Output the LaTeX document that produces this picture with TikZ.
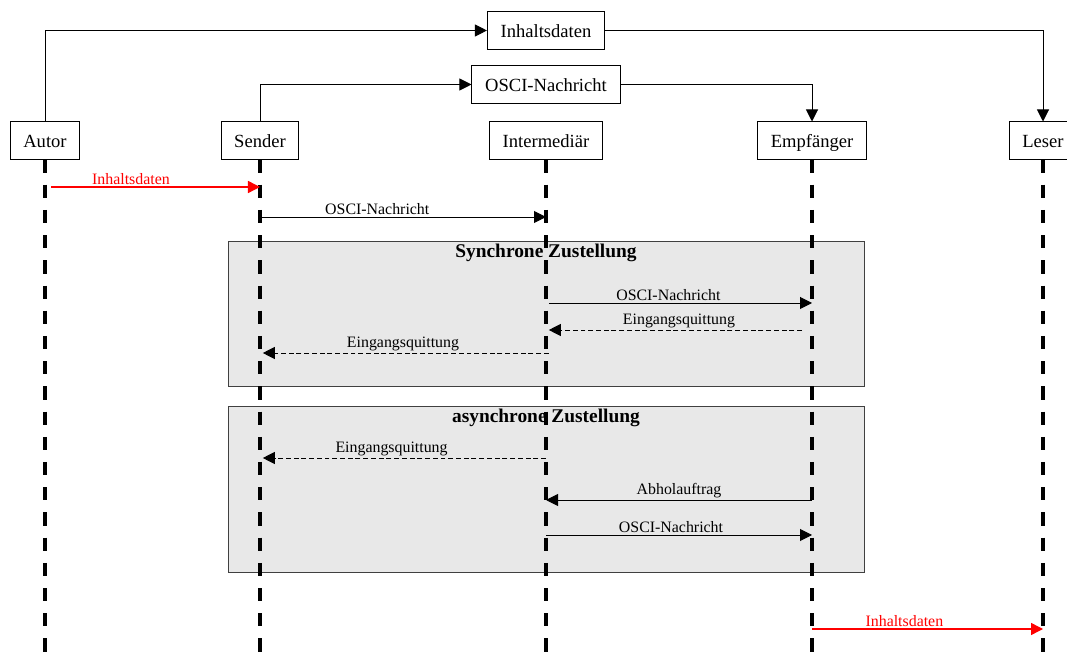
\documentclass[tikz,border=0pt]{standalone}
\usepackage{fontspec}
\setmainfont{Liberation Serif}
\usetikzlibrary{arrows.meta}

\begin{document}
\begin{tikzpicture}[x=0.025cm, y=-0.025cm,
        role/.style={draw, fill=white, line width=0.7pt, inner xsep=0.33cm,
            minimum height=0.925cm, text height=11pt, text depth=1.4pt,
            font=\fontsize{13.2}{15}\selectfont},
        flow/.style={-{Triangle[length=0.3cm, width=0.3cm]}, line width=0.7pt},
        lifeline/.style={line width=2.2pt, dash pattern=on 0.33cm off 0.3cm},
        msg/.style={-{Triangle[length=0.3cm, width=0.3cm]}, line width=0.7pt},
        reply/.style={msg, dash pattern=on 3.5pt off 2pt},
        datamsg/.style={msg, red, line width=1pt},
        lbl/.style={above, inner sep=1pt, font=\fontsize{11.3}{12}\selectfont},
        phase/.style={draw=black!75, fill=black!9, line width=0.7pt},
        phasetitle/.style={below, inner sep=2pt, font=\bfseries\fontsize{13.8}{15}\selectfont}]
        \useasboundingbox (0,0) rectangle (1067,655);

        % Rollen
        \node [role] (autor)  at (45,140.5)   {Autor};
        \node [role] (sender) at (260,140.5)  {Sender};
        \node [role] (inter)  at (546,140.5)  {Intermediär};
        \node [role] (empf)   at (812,140.5)  {Empfänger};
        \node [role] (leser)  at (1043,140.5) {Leser};

        % Objekte oben
        \node [role] (topinh)  at (546,30.5) {Inhaltsdaten};
        \node [role] (toposci) at (546,84.5) {OSCI-Nachricht};

        \draw [flow] (autor.north) |- (topinh.west);
        \draw [flow] (topinh.east) -| (leser.north);
        \draw [flow] (sender.north) |- (toposci.west);
        \draw [flow] (toposci.east) -| (empf.north);

        % Phasen
        \draw [phase] (228,241) rectangle (864,386);
        \node [phasetitle] (sync) at (546,241) {Synchrone Zustellung};
        \draw [phase] (228,406) rectangle (864,572);
        \node [phasetitle] (async) at (546,406) {asynchrone Zustellung};

        % Lebenslinien
        \foreach \r in {autor, sender, inter, empf, leser}
            \draw [lifeline] (\r.south) -- (\r.south |- 0,655);

        % Nachrichten
        \draw [datamsg, shorten <=0.15cm] (autor |- 0,187) -- (sender |- 0,187)
            node [lbl, pos=0.4] {Inhaltsdaten};
        \draw [msg] (sender |- 0,217) -- (inter |- 0,217)
            node [lbl, pos=0.41] {OSCI-Nachricht};

        \draw [msg, shorten <=0.07cm] (inter |- 0,303) -- (empf |- 0,303)
            node [lbl, pos=0.46] {OSCI-Nachricht};
        \draw [reply, shorten <=0.25cm, shorten >=0.07cm] (empf |- 0,330) -- (inter |- 0,330)
            node [lbl, midway] {Eingangsquittung};
        \draw [reply, shorten <=-0.07cm, shorten >=0.07cm] (inter |- 0,353) -- (sender |- 0,353)
            node [lbl, midway] {Eingangsquittung};

        \draw [reply, shorten >=0.07cm] (inter |- 0,458) -- (sender |- 0,458)
            node [lbl, pos=0.54] {Eingangsquittung};
        \draw [msg] (empf |- 0,500) -- (inter |- 0,500)
            node [lbl, midway] {Abholauftrag};
        \draw [msg] (inter |- 0,535) -- (empf |- 0,535)
            node [lbl, pos=0.47] {OSCI-Nachricht};

        \draw [datamsg] (empf |- 0,629) -- (leser |- 0,629)
            node [lbl, pos=0.4] {Inhaltsdaten};
    \end{tikzpicture}
\end{document}
